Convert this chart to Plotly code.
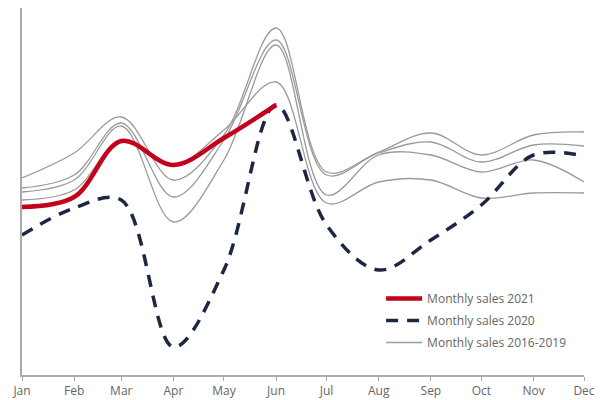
import plotly.graph_objects as go

months = ["Jan", "Feb", "Mar", "Apr", "May", "Jun", "Jul", "Aug", "Sep", "Oct", "Nov", "Dec"]
dates = ["2021-%02d-01" % (i + 1) for i in range(12)]

# values (arbitrary sales index)
sales_2021 = [168, 178, 234, 210, 237, 270]
sales_2020 = [140, 167, 175, 28, 105, 270, 150, 105, 135, 170, 220, 219]
hist_a = [197, 222, 258, 195, 240, 347, 203, 223, 242, 220, 240, 243]
hist_b = [187, 200, 252, 178, 235, 335, 200, 222, 233, 213, 230, 229]
hist_c = [183, 195, 249, 153, 215, 330, 180, 220, 220, 203, 215, 193]
hist_d = [175, 185, 235, 210, 245, 293, 172, 193, 195, 177, 182, 182]

RED = "#c4001a"
NAVY = "#1c2841"
GREY = "#9a9a9a"

fig = go.Figure()
for i, s in enumerate([hist_a, hist_b, hist_c, hist_d]):
    fig.add_trace(go.Scatter(
        x=dates, y=s, mode="lines", name="Monthly sales 2016-2019",
        line=dict(color=GREY, width=1.3, shape="spline", smoothing=1.0),
        showlegend=(i == 0), legendrank=3, legendgroup="hist", hoverinfo="skip"))
fig.add_trace(go.Scatter(
    x=dates, y=sales_2020, mode="lines", name="Monthly sales 2020",
    line=dict(color=NAVY, width=3.5, dash="12px,9px", shape="spline", smoothing=1.0),
    legendrank=2, legendgroup="s2020"))
fig.add_trace(go.Scatter(
    x=dates[:len(sales_2021)], y=sales_2021, mode="lines", name="Monthly sales 2021",
    line=dict(color=RED, width=4.5, shape="spline", smoothing=1.0),
    legendrank=1, legendgroup="s2021"))

fig.update_layout(
    width=600, height=400,
    margin=dict(l=22, r=16, t=8, b=25),
    paper_bgcolor="white", plot_bgcolor="white",
    font=dict(family="Open Sans, sans-serif", color="#666", size=12),
    legend=dict(x=0.639, y=0.248, xanchor="left", yanchor="top",
                font=dict(size=12, color="#666"), bgcolor="rgba(0,0,0,0)",
                tracegroupgap=3, itemwidth=36),
    xaxis=dict(range=[dates[0], dates[-1]], tickvals=dates, ticktext=months,
               showgrid=False, zeroline=False, showline=True, linecolor="#aaa",
               linewidth=1.5, ticks="outside", ticklen=4, tickcolor="#aaa",
               automargin=False, tickfont=dict(size=12, color="#666")),
    yaxis=dict(range=[0, 367], showgrid=False, zeroline=False, showline=True,
               linecolor="#aaa", linewidth=1.5, showticklabels=False, ticks="",
               automargin=False),
)

fig.write_html(
    "out.html",
    config={"displayModeBar": False},
    post_script="document.body.style.margin='0';"
                "document.documentElement.style.overflow='hidden';"
                "document.body.style.overflow='hidden';",
)
